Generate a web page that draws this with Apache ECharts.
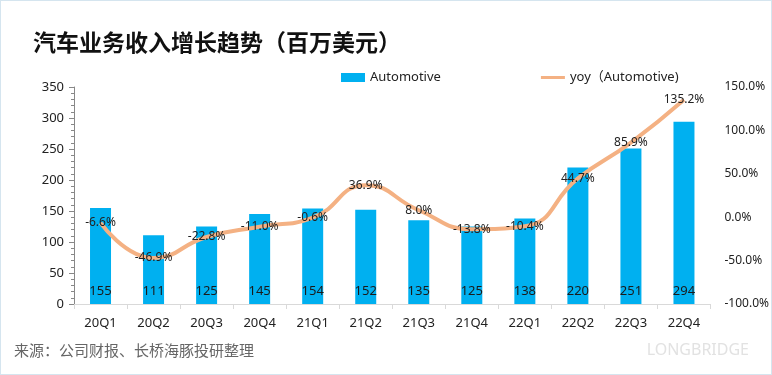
<!DOCTYPE html>
<html><head><meta charset="utf-8">
<script src="https://cdn.jsdelivr.net/npm/echarts@6/dist/echarts.min.js"></script>
<style>
html,body{margin:0;padding:0;background:#fff;}
#wrap{position:absolute;left:0;top:0;width:770px;height:373px;border:1px solid #D5E5EF;}
#c{width:772px;height:375px;position:absolute;left:0;top:0;}
</style></head>
<body><div id="wrap"></div><div id="c"></div>
<script>
const categories = ['20Q1','20Q2','20Q3','20Q4','21Q1','21Q2','21Q3','21Q4','22Q1','22Q2','22Q3','22Q4'];
const revenue = [155,111,125,145,154,152,135,125,138,220,251,294];
const yoy = [-6.6,-46.9,-22.8,-11.0,-0.6,36.9,8.0,-13.8,-10.4,44.7,85.9,135.2];
const titleText = '汽车业务收入增长趋势（百万美元）';
const sourceText = '来源：公司财报、长桥海豚投研整理';
const barName = 'Automotive';
const lineName = 'yoy（Automotive)';

const font = '"Noto Sans", "Noto Sans CJK SC", sans-serif';
const chart = echarts.init(document.getElementById('c'), null, {renderer:'canvas'});
chart.setOption({
  backgroundColor:'transparent',
  animation:false,
  textStyle:{fontFamily:font},
  title:[{text:titleText,left:28,top:26,textStyle:{fontSize:23,fontWeight:'bold',color:'#111',fontFamily:'"Noto Sans CJK SC", sans-serif'}},
         {text:sourceText,left:9,bottom:12,textStyle:{fontSize:15,fontWeight:'normal',color:'#666',fontFamily:'"Noto Sans CJK SC", sans-serif'}},
         {text:'LONGBRIDGE',right:18,bottom:12,textStyle:{fontSize:16,fontWeight:'normal',color:'#E2E2E2'}}],
  legend:{top:66,left:336,itemGap:100,itemWidth:24,itemHeight:9,
    textStyle:{fontSize:13,color:'#222'},
    data:[{name:barName,icon:'rect'},{name:lineName,icon:'path://M0,0h24v3h-24z'}]},
  grid:{left:74,right:53,top:87,bottom:71},
  xAxis:{type:'category',data:categories,
    axisLine:{lineStyle:{color:'#D9D9D9'}},
    axisTick:{show:true,length:5,lineStyle:{color:'#D9D9D9'}},
    axisLabel:{fontSize:13,color:'#222',margin:13}},
  yAxis:[{type:'value',min:0,max:350,interval:50,
      axisLine:{show:true,lineStyle:{color:'#888'}},
      axisTick:{show:true,length:5,lineStyle:{color:'#888'}},
      minorTick:{show:true,splitNumber:5,length:3,lineStyle:{color:'#888'}},
      splitLine:{show:false},
      axisLabel:{fontSize:13,color:'#222',margin:10}},
    {type:'value',min:-100,max:150,interval:50,
      axisLine:{show:false},axisTick:{show:false},splitLine:{show:false},
      axisLabel:{fontSize:12,color:'#222',margin:14,formatter:v=>v.toFixed(1)+'%'}}],
  series:[
    {name:barName,type:'bar',data:revenue,barWidth:21,itemStyle:{color:'#00B0F0'},
      label:{show:true,position:'insideBottom',distance:6,fontSize:13,color:'#1a1a1a'}},
    {name:lineName,type:'line',yAxisIndex:1,data:yoy,smooth:0.5,symbol:'circle',symbolSize:0,showSymbol:true,
      lineStyle:{color:'#F4B183',width:4},itemStyle:{color:'#F4B183'},
      label:{show:true,position:'top',distance:-6,fontSize:12,color:'#222',formatter:p=>p.value.toFixed(1)+'%'}}
  ]
});
</script></body></html>
